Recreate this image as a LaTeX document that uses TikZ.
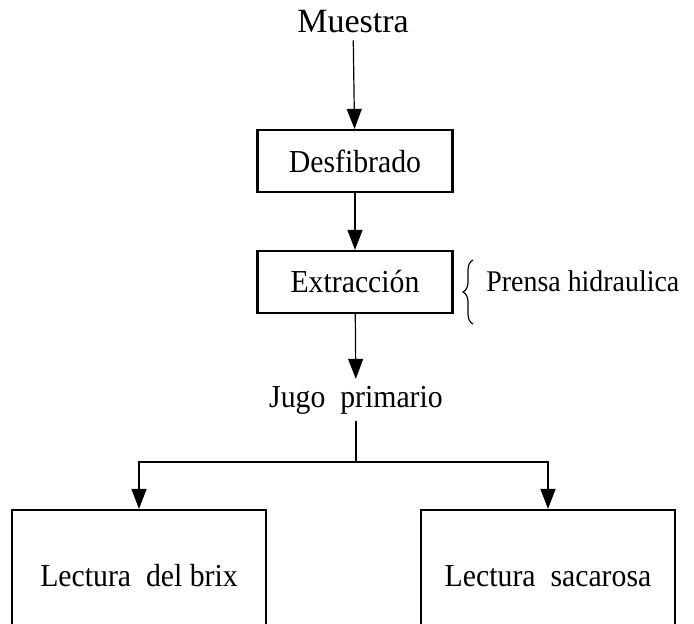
\documentclass[tikz,border=0pt]{standalone}
\usepackage{fontspec}
\setmainfont[FakeStretch=0.93]{Liberation Serif}
\newfontfamily\widefont{Liberation Serif}
\usetikzlibrary{arrows.meta,decorations.pathreplacing}
\tikzset{>={Triangle[length=10pt,width=7.5pt]}}
\tikzset{%
    proc/.style={draw,line width=1.1pt,minimum width=97.5pt,minimum height=31pt,inner sep=0pt},
    lect/.style={draw,line width=1.1pt,minimum width=127pt,minimum height=66pt,inner sep=0pt},
    flow/.style={->,line width=0.6pt}
}

\begin{document}
\begin{tikzpicture}[x=0.5pt,y=-0.5pt,font=\fontsize{16}{18}\selectfont]
\useasboundingbox (0,0) rectangle (694,623);
\clip (0,0) rectangle (694,623);

\node[font=\widefont\fontsize{17}{19}\selectfont] (muestra) at (353,22) {Muestra};
\node[proc] (desf) at (355,161) {Desfibrado};
\node[proc] (extr) at (355,282) {Extracción};
\node (jugo) at (356,400) {Jugo\ \ primario};
\node[lect] (brix) at (139,576) {Lectura\ \ del brix};
\node[lect] (sac) at (548,576) {Lectura\ \ sacarosa};

\coordinate (top) at (473,260);
\coordinate (bot) at (473,324);
\coordinate (split) at (356,462);

\draw[flow] (muestra) -- (desf);
\draw[flow] (desf) -- (extr);
\draw[flow] (extr) -- (jugo);

\draw[line width=0.6pt] (jugo) -- (split);
\draw[flow] (split) -| (brix);
\draw[flow] (split) -| (sac);

\draw[line width=0.6pt,decorate,decoration={brace,amplitude=5pt}] (bot) -- (top);
\node[anchor=west,inner sep=0pt,font=\fontsize{15}{17}\selectfont] (prensa) at (486,281) {Prensa hidraulica};
\end{tikzpicture}
\end{document}
